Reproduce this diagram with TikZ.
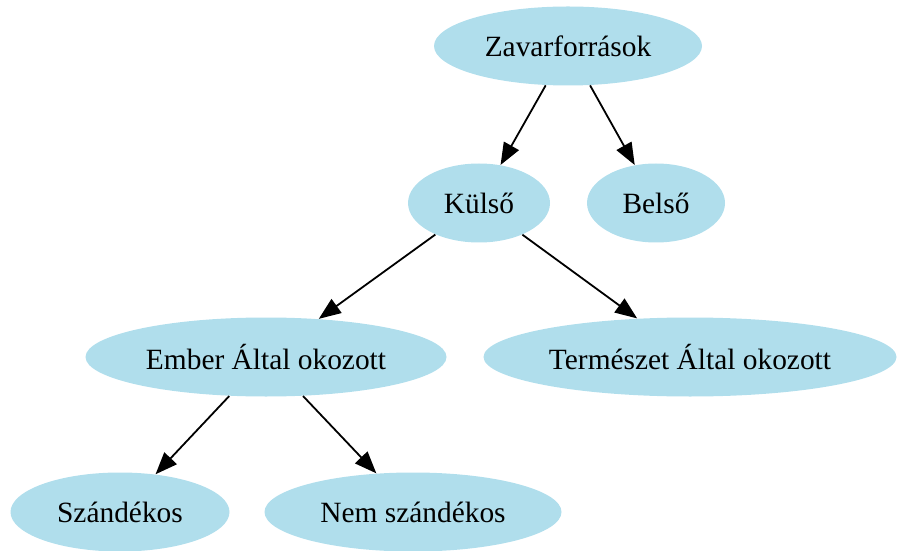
\documentclass[tikz,border=0pt]{standalone}
\usepackage{fontspec}
\setmainfont{Liberation Serif}
\usetikzlibrary{shapes.geometric,arrows.meta}
\definecolor{nodeblue}{RGB}{176,222,236}

\begin{document}
\begin{tikzpicture}[x=0.5pt,y=-0.5pt,
    blob/.style={ellipse,fill=nodeblue,inner sep=0pt,minimum height=39.5pt,font=\fontsize{14.7}{17}\selectfont},
    edge/.style={-{Triangle[length=11pt,width=8.5pt]},line width=0.9pt}]
    \useasboundingbox(0,0)rectangle(897,550);
    \node[blob,minimum width=134pt](zavar)at(568,46){Zavarforrások};
    \node[blob,minimum width=71pt](kulso)at(479,203){Külső};
    \node[blob,minimum width=69pt](belso)at(656,203){Belső};
    \node[blob,minimum width=180.5pt](ember)at(266,357){Ember Által okozott};
    \node[blob,minimum width=206.5pt](termeszet)at(690,357){Természet Által okozott};
    \node[blob,minimum width=109.5pt](szandekos)at(120,512){Szándékos};
    \node[blob,minimum width=148.5pt](nemszand)at(413,512){Nem szándékos};

    \draw[edge](zavar)--(kulso);
    \draw[edge](zavar)--(belso);
    \draw[edge](kulso)--(ember);
    \draw[edge](kulso)--(termeszet);
    \draw[edge](ember)--(szandekos);
    \draw[edge](ember)--(nemszand);
\end{tikzpicture}
\end{document}
